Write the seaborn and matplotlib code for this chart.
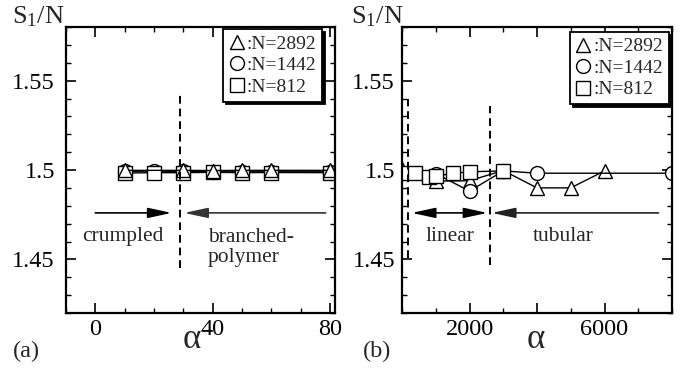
import matplotlib
matplotlib.use("Agg")
import matplotlib.pyplot as plt
from matplotlib.lines import Line2D
from matplotlib.ticker import MultipleLocator, FixedLocator, FixedFormatter
import seaborn as sns

sns.set_theme(style="white")
plt.rcParams["font.family"] = ["Liberation Serif", "DejaVu Serif"]
plt.rcParams["mathtext.fontset"] = "custom"
plt.rcParams["mathtext.rm"] = "Liberation Serif"
plt.rcParams["mathtext.it"] = "Liberation Serif:italic"

# ---- panel (a): small alpha ----
a_tri_x = [10, 30, 40, 50, 60, 80]
a_tri_y = [1.4998, 1.4998, 1.4997, 1.4998, 1.4998, 1.4998]
a_cir_x = [10, 20, 30, 40, 50, 60, 80]
a_cir_y = [1.4992, 1.4994, 1.4992, 1.4990, 1.4990, 1.4990, 1.4990]
a_sq_x = [10, 20, 30, 40, 50, 60, 80]
a_sq_y = [1.4983, 1.4985, 1.4985, 1.4987, 1.4985, 1.4986, 1.4985]
a_boundary = 29

# ---- panel (b): large alpha ----
b_tri_x = [0, 1000, 2000, 3000, 4000, 5000, 6000]
b_tri_y = [1.5008, 1.4938, 1.4940, 1.4997, 1.4900, 1.4900, 1.4995]
b_cir_x = [0, 1000, 2000, 3000, 4000, 8000]
b_cir_y = [1.4985, 1.4980, 1.4882, 1.4995, 1.4982, 1.4982]
b_sq_x = [0, 400, 800, 1000, 1500, 2000, 3000]
b_sq_y = [1.4983, 1.4983, 1.4962, 1.4966, 1.4981, 1.4990, 1.4995]
b_boundaries = [180, 2600]

legend_labels = [":N=2892", ":N=1442", ":N=812"]

fig = plt.figure(figsize=(6.99, 3.74), dpi=100)
ax_a = fig.add_axes([0.0944, 0.1631, 0.3849, 0.7647])
ax_b = fig.add_axes([0.5751, 0.1631, 0.3863, 0.7647])

ms = 10
common = dict(color="black", markerfacecolor="white", markeredgecolor="black",
              markeredgewidth=1.0, markersize=ms, linewidth=1.0,
              estimator=None, sort=False, legend=False)


def draw_series(ax, order):
    for x, y, m in order:
        sns.lineplot(x=x, y=y, ax=ax, marker=m, **common)


draw_series(ax_a, [(a_cir_x, a_cir_y, "o"), (a_sq_x, a_sq_y, "s"), (a_tri_x, a_tri_y, "^")])
draw_series(ax_b, [(b_tri_x, b_tri_y, "^"), (b_cir_x, b_cir_y, "o"), (b_sq_x, b_sq_y, "s")])

tick_fs = 17.5
for ax in (ax_a, ax_b):
    ax.set_ylim(1.42, 1.58)
    ax.yaxis.set_major_locator(FixedLocator([1.45, 1.5, 1.55]))
    ax.yaxis.set_major_formatter(FixedFormatter(["1.45", "1.5", "1.55"]))
    ax.yaxis.set_minor_locator(MultipleLocator(0.01))
    ax.tick_params(which="both", direction="in", top=True, right=True,
                   bottom=True, left=True, color="black", labelsize=tick_fs,
                   labelcolor="black")
    ax.tick_params(which="major", length=7, width=1.2)
    ax.tick_params(which="minor", length=3.5, width=1.0)
    for s in ax.spines.values():
        s.set_linewidth(1.6)
        s.set_color("black")
    ax.set_xlabel("")
    ax.set_ylabel("")

ax_a.tick_params(axis="y", pad=8)
ax_b.tick_params(axis="y", pad=5)
ax_a.tick_params(axis="x", pad=4)
ax_b.tick_params(axis="x", pad=4)

ax_a.set_xlim(-10, 81.7)
ax_a.xaxis.set_major_locator(FixedLocator([0, 40, 80]))
ax_a.xaxis.set_major_formatter(FixedFormatter(["0", "40", "80"]))
ax_a.xaxis.set_minor_locator(MultipleLocator(10))

ax_b.set_xlim(0, 8000)
ax_b.xaxis.set_major_locator(FixedLocator([2000, 4000, 6000]))
ax_b.xaxis.set_major_formatter(FixedFormatter(["2000", "", "6000"]))
ax_b.xaxis.set_minor_locator(MultipleLocator(1000))

dash = (0, (4, 2.5))
ax_a.plot([a_boundary, a_boundary], [1.4453, 1.5425], color="black", lw=1.4, linestyle=dash)
ax_b.plot([b_boundaries[0]] * 2, [1.451, 1.540], color="black", lw=1.4, linestyle=dash)
ax_b.plot([b_boundaries[1]] * 2, [1.447, 1.536], color="black", lw=1.4, linestyle=dash)

arrow_y = 1.476
head = "-|>,head_length=1.2,head_width=0.26"
dhead = "<|-|>,head_length=1.2,head_width=0.26"


def arrow(ax, x0, x1, style, col="black"):
    ax.annotate("", xy=(x1, arrow_y), xytext=(x0, arrow_y),
                arrowprops=dict(arrowstyle=style, color=col, lw=1.2,
                                mutation_scale=12, shrinkA=0, shrinkB=0))


arrow(ax_a, 0, 26, head)
arrow(ax_a, 78.5, 30.3, head, "#333333")
arrow(ax_b, 290, 2530, dhead)
arrow(ax_b, 7600, 2660, head, "#222222")

txt_fs = 15.5
ax_a.text(9.5, 1.4628, "crumpled", ha="center", va="center", fontsize=txt_fs)
ax_a.text(38.3, 1.4566, "branched-\npolymer", ha="left", va="center",
          fontsize=txt_fs, linespacing=1.05)
ax_b.text(1420, 1.4628, "linear", ha="center", va="center", fontsize=txt_fs)
ax_b.text(4780, 1.4628, "tubular", ha="center", va="center", fontsize=txt_fs)

# legends with marker-only handles and a hard drop shadow
handles = [Line2D([], [], marker=m, linestyle="none", markerfacecolor="white",
                  markeredgecolor="black", markeredgewidth=1.0, markersize=10)
           for m in ("^", "o", "s")]
for ax, anchor in ((ax_a, (0.953, 0.992)), (ax_b, (0.988, 0.983))):
    leg = ax.legend(handles, legend_labels, loc="upper right", bbox_to_anchor=anchor,
                    borderaxespad=0, fontsize=14, frameon=True, fancybox=False,
                    framealpha=1, edgecolor="black", handlelength=0.8,
                    handletextpad=0.1, labelspacing=0.2, borderpad=0.3,
                    shadow=dict(color="black", alpha=1))
    leg.get_frame().set_linewidth(1.3)

# figure-level labels
fig.text(0.017, 0.9385, r"S$_1$/N", fontsize=19, ha="left", va="baseline")
fig.text(0.502, 0.9385, r"S$_1$/N", fontsize=19, ha="left", va="baseline")
fig.text(0.274, 0.092, "α", fontsize=25, ha="center", va="center")
fig.text(0.767, 0.092, "α", fontsize=25, ha="center", va="center")
fig.text(0.019, 0.059, "(a)", fontsize=17.5, ha="left", va="center")
fig.text(0.519, 0.059, "(b)", fontsize=17.5, ha="left", va="center")

fig.savefig("out.png", dpi=100, facecolor="white")
